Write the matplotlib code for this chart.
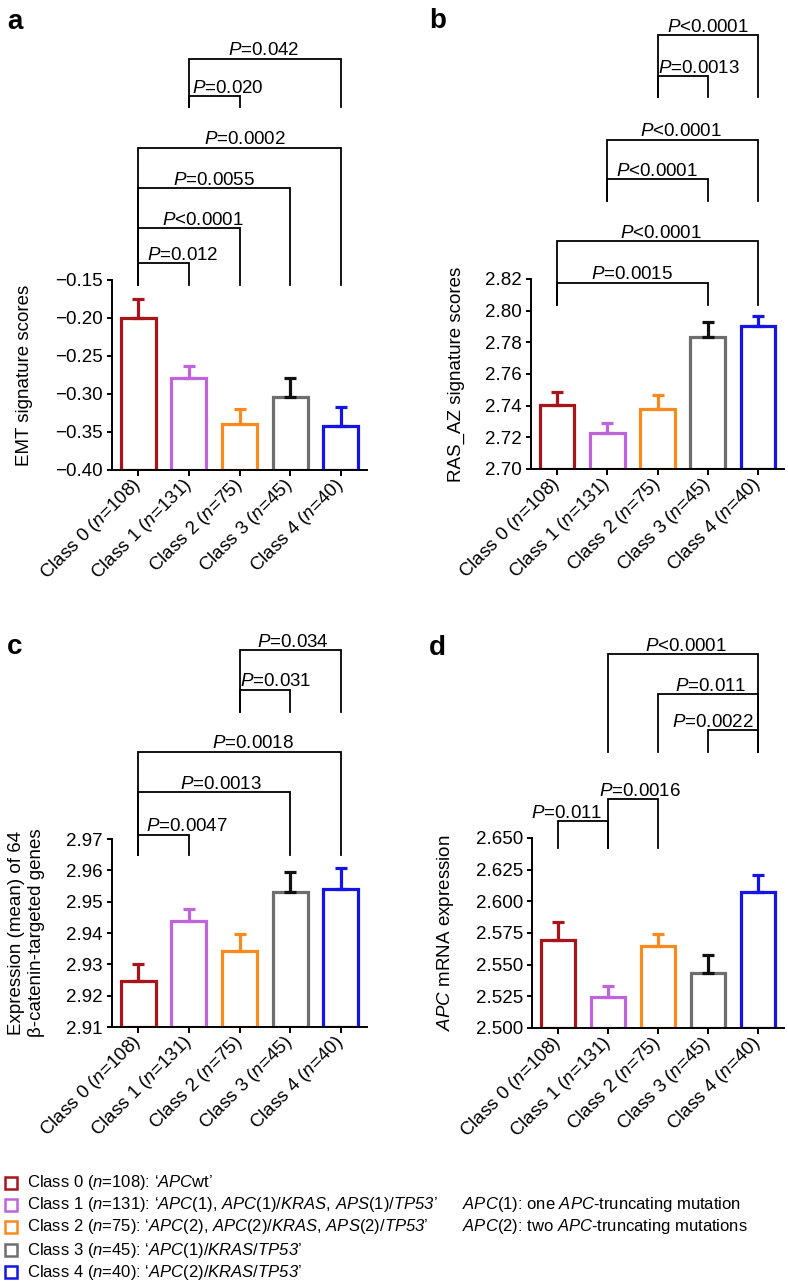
import matplotlib

matplotlib.use("Agg")
import matplotlib.pyplot as plt
from matplotlib.lines import Line2D

plt.rcParams["font.family"] = ["Liberation Sans", "DejaVu Sans"]
plt.rcParams["mathtext.fontset"] = "custom"
plt.rcParams["mathtext.rm"] = "Liberation Sans"
plt.rcParams["mathtext.it"] = "Liberation Sans:italic"
# \mathsf is used for italic words so digits (TP53) stay italic too
plt.rcParams["mathtext.sf"] = "Liberation Sans:italic"
plt.rcParams["axes.unicode_minus"] = True

# ---- data -------------------------------------------------------------
classes = ["Class 0", "Class 1", "Class 2", "Class 3", "Class 4"]
class_n = [108, 131, 75, 45, 40]
bar_colors = ["#a8141b", "#bf64dc", "#f98a1e", "#6e6e6e", "#1414e6"]
err_colors = ["#a8141b", "#bf64dc", "#f98a1e", "#111111", "#1414e6"]

emt_mean = [-0.200, -0.279, -0.339, -0.304, -0.342]
emt_sem = [0.025, 0.016, 0.019, 0.025, 0.025]
emt_ticks = [-0.40, -0.35, -0.30, -0.25, -0.20, -0.15]

ras_mean = [2.7405, 2.7228, 2.7380, 2.7835, 2.7900]
ras_sem = [0.0082, 0.0062, 0.0088, 0.0095, 0.0068]
ras_ticks = [2.70, 2.72, 2.74, 2.76, 2.78, 2.80, 2.82]

bcat_mean = [2.9247, 2.9438, 2.9343, 2.9531, 2.9540]
bcat_sem = [0.0053, 0.0039, 0.0054, 0.0064, 0.0067]
bcat_ticks = [2.91, 2.92, 2.93, 2.94, 2.95, 2.96, 2.97]

apc_mean = [2.5695, 2.5245, 2.5647, 2.5434, 2.6073]
apc_sem = [0.0142, 0.0085, 0.0093, 0.0142, 0.0135]
apc_ticks = [2.500, 2.525, 2.550, 2.575, 2.600, 2.625, 2.650]

# brackets: (class i, class j, line level, leg bottom, label, label x)
emt_brackets = [
    (0, 1, -0.128, -0.157, "$\\mathsf{P}$=0.012", 0.87),
    (0, 2, -0.082, -0.157, "$\\mathsf{P}$<0.0001", 1.27),
    (0, 3, -0.029, -0.157, "$\\mathsf{P}$=0.0055", 1.5),
    (0, 4, 0.024, -0.157, "$\\mathsf{P}$=0.0002", 2.1),
    (1, 2, 0.092, 0.078, "$\\mathsf{P}$=0.020", 1.76),
    (1, 4, 0.141, 0.078, "$\\mathsf{P}$=0.042", 2.48),
]
ras_brackets = [
    (0, 3, 2.8177, 2.8038, "$\\mathsf{P}$=0.0015", 1.5),
    (0, 4, 2.8437, 2.8038, "$\\mathsf{P}$<0.0001", 2.06),
    (1, 3, 2.8830, 2.8690, "$\\mathsf{P}$<0.0001", 1.98),
    (1, 4, 2.9080, 2.8690, "$\\mathsf{P}$<0.0001", 2.46),
    (2, 3, 2.9480, 2.9350, "$\\mathsf{P}$=0.0013", 2.83),
    (2, 4, 2.9740, 2.9350, "$\\mathsf{P}$<0.0001", 3.0),
]
bcat_brackets = [
    (0, 1, 2.9713, 2.9649, "$\\mathsf{P}$=0.0047", 0.97),
    (0, 3, 2.9850, 2.9649, "$\\mathsf{P}$=0.0013", 1.64),
    (0, 4, 2.9978, 2.9649, "$\\mathsf{P}$=0.0018", 2.26),
    (2, 3, 3.0176, 3.0105, "$\\mathsf{P}$=0.031", 2.71),
    (2, 4, 3.0303, 3.0105, "$\\mathsf{P}$=0.034", 3.05),
]
apc_brackets = [
    (0, 1, 2.6634, 2.6420, "$\\mathsf{P}$=0.011", 0.18),
    (1, 2, 2.6807, 2.6420, "$\\mathsf{P}$=0.0016", 1.64),
    (3, 4, 2.7350, 2.7177, "$\\mathsf{P}$=0.0022", 3.09),
    (2, 4, 2.7636, 2.7177, "$\\mathsf{P}$=0.011", 3.05),
    (1, 4, 2.7950, 2.7177, "$\\mathsf{P}$<0.0001", 2.55),
]

class_desc = [
    "\u2018$\\mathsf{APC}$wt\u2019",
    "\u2018$\\mathsf{APC}$(1), $\\mathsf{APC}$(1)/$\\mathsf{KRAS}$, $\\mathsf{APS}$(1)/$\\mathsf{TP53}$\u2019",
    "\u2018$\\mathsf{APC}$(2), $\\mathsf{APC}$(2)/$\\mathsf{KRAS}$, $\\mathsf{APS}$(2)/$\\mathsf{TP53}$\u2019",
    "\u2018$\\mathsf{APC}$(1)/$\\mathsf{KRAS}$/$\\mathsf{TP53}$\u2019",
    "\u2018$\\mathsf{APC}$(2)/$\\mathsf{KRAS}$/$\\mathsf{TP53}$\u2019",
]
notes = [
    "$\\mathsf{APC}$(1): one $\\mathsf{APC}$-truncating mutation",
    "$\\mathsf{APC}$(2): two $\\mathsf{APC}$-truncating mutations",
]

# ---- figure -----------------------------------------------------------
W, H = 788, 1281
FS = 13.5
fig = plt.figure(figsize=(W / 100, H / 100), dpi=100)
fig.patch.set_facecolor("white")


def px_rect(left, top, right, bottom):
    return [left / W, 1 - bottom / H, (right - left) / W, (bottom - top) / H]


def draw_panel(rect, means, sems, ticks, fmt, ylabel, label_x, brackets):
    ax = fig.add_axes(rect)
    x = list(range(len(means)))
    y0, y1 = ticks[0], ticks[-1]
    ax.set_xlim(-0.52, 4.52)
    ax.set_ylim(y0, y1)

    ax.bar(x, [m - y0 for m in means], bottom=y0, width=0.69, facecolor="white",
           edgecolor=bar_colors, linewidth=2.3, zorder=2)
    for xi, m, s, c in zip(x, means, sems, err_colors):
        ax.errorbar([xi], [m], yerr=[[0], [s]], fmt="none", ecolor=c,
                    elinewidth=2.3, capsize=4.5, capthick=2.3, zorder=3)

    for sp in ("top", "right"):
        ax.spines[sp].set_visible(False)
    for sp in ("left", "bottom"):
        ax.spines[sp].set_linewidth(1.4)
    ax.spines["left"].set_bounds(y0, y1)

    ax.set_yticks(ticks)
    ax.set_yticklabels([fmt.format(t).replace("-", "\u2212") for t in ticks], fontsize=FS)
    ax.set_xticks(x)
    ax.set_xticklabels([f"{c} ($\\mathsf{{n}}$={n})" for c, n in zip(classes, class_n)],
                       rotation=45, ha="right", va="center", rotation_mode="anchor", fontsize=FS)
    ax.tick_params(axis="y", direction="out", length=3.6, width=1.4, pad=3)
    ax.tick_params(axis="x", direction="out", length=4, width=1.4, pad=5)

    ax.set_ylabel(ylabel, fontsize=FS)
    ax.yaxis.set_label_coords(label_x, 0.5)

    for i, j, y, leg, label, tx in brackets:
        ax.plot([i, i, j, j], [leg, y, y, leg], color="black", lw=1.3, clip_on=False,
                solid_joinstyle="miter", zorder=4)
        ax.annotate(label, (tx, y), xytext=(0, 2.5), textcoords="offset points",
                    ha="center", va="baseline", fontsize=FS, annotation_clip=False)
    return ax


draw_panel(px_rect(112, 280, 367, 470), emt_mean, emt_sem, emt_ticks, "{:.2f}",
           "EMT signature scores", -0.31, emt_brackets)
draw_panel(px_rect(531, 279, 784, 469), ras_mean, ras_sem, ras_ticks, "{:.2f}",
           "RAS_AZ signature scores", -0.26, ras_brackets)
draw_panel(px_rect(112, 839, 367, 1027), bcat_mean, bcat_sem, bcat_ticks, "{:.2f}",
           "Expression (mean) of 64\n\u03b2-catenin-targeted genes", -0.263, bcat_brackets)
draw_panel(px_rect(532, 838, 784, 1028), apc_mean, apc_sem, apc_ticks, "{:.3f}",
           "$\\mathsf{APC}$ mRNA expression", -0.30, apc_brackets)

# panel letters
for letter, px, py in [("a", 7, 29), ("b", 429, 28), ("c", 7, 654), ("d", 429, 655)]:
    fig.text(px / W, 1 - py / H, letter, fontsize=20, fontweight="bold",
             ha="left", va="baseline")

# class key at the bottom
row_y = [1183, 1205, 1227, 1250, 1272]
for k, (c, n, desc) in enumerate(zip(classes, class_n, class_desc)):
    fy = 1 - row_y[k] / H
    fig.add_artist(Line2D([11 / W], [fy], marker="s", markersize=8.5, markerfacecolor="white",
                          markeredgecolor=bar_colors[k], markeredgewidth=1.8,
                          transform=fig.transFigure))
    fig.text(27 / W, fy, f"{c} ($\\mathsf{{n}}$={n}): {desc}", fontsize=12,
             ha="left", va="center")
for k, note in enumerate(notes):
    fig.text(462 / W, 1 - row_y[k + 1] / H, note, fontsize=12, ha="left", va="center")

fig.savefig("out.png", dpi=100, facecolor="white")
